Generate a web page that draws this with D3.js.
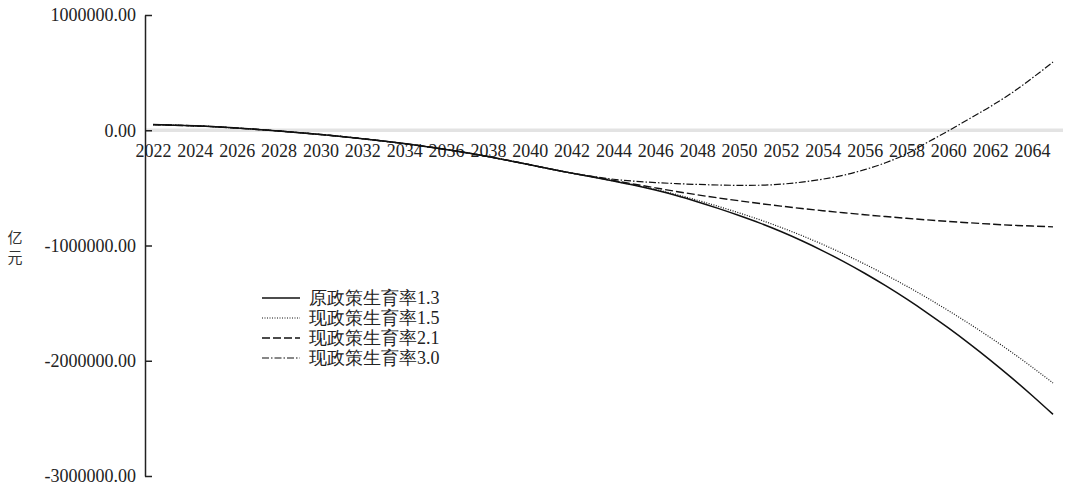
<!DOCTYPE html>
<html>
<head>
<meta charset="utf-8">
<script src="https://cdn.jsdelivr.net/npm/d3@7"></script>
<style>
  html, body { margin: 0; padding: 0; background: #fff; }
  svg { display: block; }
</style>
</head>
<body>
<svg id="chart" width="1071" height="491"></svg>
<script>
// years on the category axis
const years = d3.range(2022, 2066);

// values in 亿元
const common = [49000, 44000, 38000, 30000, 19000, 7000, -6000, -21000, -37000, -54000,
  -73000, -94000, -116000, -140000, -167000, -196000, -228000, -263000, -299000, -337000, -372000];

const s13 = common.concat([-405000, -440000, -477000, -519000, -566000, -620000, -678000, -740000,
  -806000, -879000, -959000, -1046000, -1140000, -1241000, -1349000, -1464000, -1586000, -1715000,
  -1851000, -1994000, -2144000, -2301000, -2465000]);

const s15 = common.concat([-405000, -440000, -475000, -514000, -557000, -607000, -660000, -717000,
  -777000, -843000, -914000, -991000, -1073000, -1161000, -1254000, -1352000, -1456000, -1565000,
  -1679000, -1798000, -1923000, -2055000, -2193000]);

const s21 = common.concat([-403000, -436000, -468000, -500000, -531000, -560000, -587000, -612000,
  -636000, -658000, -679000, -698000, -716000, -733000, -749000, -764000, -778000, -791000,
  -803000, -814000, -824000, -831000, -838000]);

const s30 = common.concat([-400000, -425000, -442000, -454000, -463000, -470000, -475000, -478000,
  -477000, -468000, -450000, -424000, -390000, -342000, -282000, -205000, -105000, -5000,
  100000, 205000, 320000, 452000, 592000]);

const seriesNames = ["原政策生育率1.3", "现政策生育率1.5", "现政策生育率2.1", "现政策生育率3.0"];
const seriesValues = [s13, s15, s21, s30];
const yTicks = [1000000, 0, -1000000, -2000000, -3000000];
const xTickYears = years.filter(y => (y - 2022) % 2 === 0);

const dashes = ["none", "1,1.5", "8,3", "7,2,1.5,2"];
const widths = [1.5, 1.2, 1.4, 1.2];

const svg = d3.select("#chart");
const fontSerif = "'Liberation Serif', 'Times New Roman', 'DejaVu Serif', serif";

const x = d3.scalePoint().domain(years).range([153, 1053]);
const y = d3.scaleLinear().domain([-3000000, 1000000]).range([476, 15]);

// zero line (light gray band)
svg.append("line")
  .attr("x1", 145).attr("x2", 1063)
  .attr("y1", y(0)).attr("y2", y(0))
  .attr("stroke", "#e3e3e3")
  .attr("stroke-width", 3.5);

// x labels
const xAxis = svg.append("g")
  .attr("transform", `translate(0,${y(0)})`)
  .call(d3.axisBottom(x).tickValues(xTickYears).tickSize(0).tickPadding(14));
xAxis.select(".domain").remove();
xAxis.selectAll("text")
  .attr("fill", "#222")
  .style("font-family", fontSerif)
  .style("font-size", "18px");

// y axis
const yAxis = svg.append("g")
  .attr("transform", "translate(145,0)")
  .call(d3.axisLeft(y).tickValues(yTicks).tickSizeInner(-7).tickSizeOuter(0)
    .tickPadding(9).tickFormat(v => v.toFixed(2)));
yAxis.select(".domain").attr("stroke", "#222").attr("stroke-width", 1.5);
yAxis.selectAll(".tick line").attr("stroke", "#222").attr("stroke-width", 1.5);
yAxis.selectAll("text")
  .attr("fill", "#222")
  .style("font-family", fontSerif)
  .style("font-size", "18px");

// unit label, stacked vertically
svg.append("g")
  .selectAll("text")
  .data(["亿", "元"])
  .join("text")
  .attr("x", 15)
  .attr("y", (d, i) => 243 + i * 20)
  .attr("text-anchor", "middle")
  .attr("fill", "#333")
  .style("font-family", "'Noto Sans CJK SC', sans-serif")
  .style("font-size", "15px")
  .text(d => d);

// lines
const line = d3.line()
  .x((d, i) => x(years[i]))
  .y(d => y(d))
  .curve(d3.curveMonotoneX);

svg.append("g")
  .selectAll("path")
  .data(seriesValues)
  .join("path")
  .attr("fill", "none")
  .attr("stroke", "#111")
  .attr("stroke-width", (d, i) => widths[i])
  .attr("stroke-dasharray", (d, i) => dashes[i])
  .attr("d", line);

// legend
const legend = svg.append("g")
  .selectAll("g")
  .data(seriesNames)
  .join("g")
  .attr("transform", (d, i) => `translate(262,${298 + i * 20})`);

legend.append("line")
  .attr("x1", 0).attr("x2", 38)
  .attr("stroke", "#111")
  .attr("stroke-width", (d, i) => widths[i])
  .attr("stroke-dasharray", (d, i) => dashes[i]);

legend.append("text")
  .attr("x", 47)
  .attr("dy", "0.35em")
  .attr("fill", "#222")
  .style("font-family", fontSerif)
  .style("font-size", "18px")
  .text(d => d);
</script>
</body>
</html>
